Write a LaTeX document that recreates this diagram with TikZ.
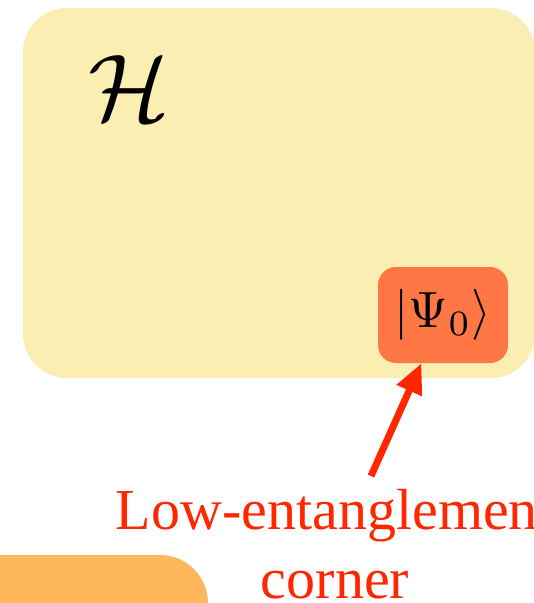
\documentclass[tikz,border=0pt]{standalone}
\usepackage{fontspec}
\usepackage{graphicx}
\newfontfamily\labelfont{Liberation Serif}
\usetikzlibrary{arrows.meta}
\definecolor{hilbert}{RGB}{251,238,178}
\definecolor{otherbox}{RGB}{255,183,94}
\definecolor{psibox}{RGB}{255,119,68}
\definecolor{arrowred}{RGB}{255,38,0}
\tikzset{
  region/.style={rounded corners=#1, draw=none},
  statebox/.style={fill=psibox, rounded corners=18pt, minimum width=130pt, minimum height=96pt, inner sep=0pt},
  pointer/.style={draw=arrowred, line width=7pt, -{Triangle[length=30pt,width=26pt]}},
  redlabel/.style={text=arrowred, align=center, inner sep=0pt, font=\labelfont\fontsize{58}{69}\selectfont}
}
\begin{document}
\begin{tikzpicture}[x=1pt,y=-1pt]
\useasboundingbox (0,0) rectangle (534,603);
\begin{scope}
\clip (0,0) rectangle (534,603);
\fill[hilbert, region=44pt] (23,8) rectangle (535,378);
\fill[otherbox, region=48pt] (-60,555) rectangle (208,700);
\node[inner sep=0pt] (H) at (129,88) {\scalebox{9.5}{$\mathcal{H}$}};
\node[statebox] (psi) at (443,315) {\scalebox{5.1}{$|\Psi_0\rangle$}};
\coordinate (tail) at (371,476);
\draw[pointer] (tail) -- (psi);
\node[redlabel, anchor=base] (lab) at (335,598) {Low-entanglement\\corner};
\end{scope}
\end{tikzpicture}
\end{document}
